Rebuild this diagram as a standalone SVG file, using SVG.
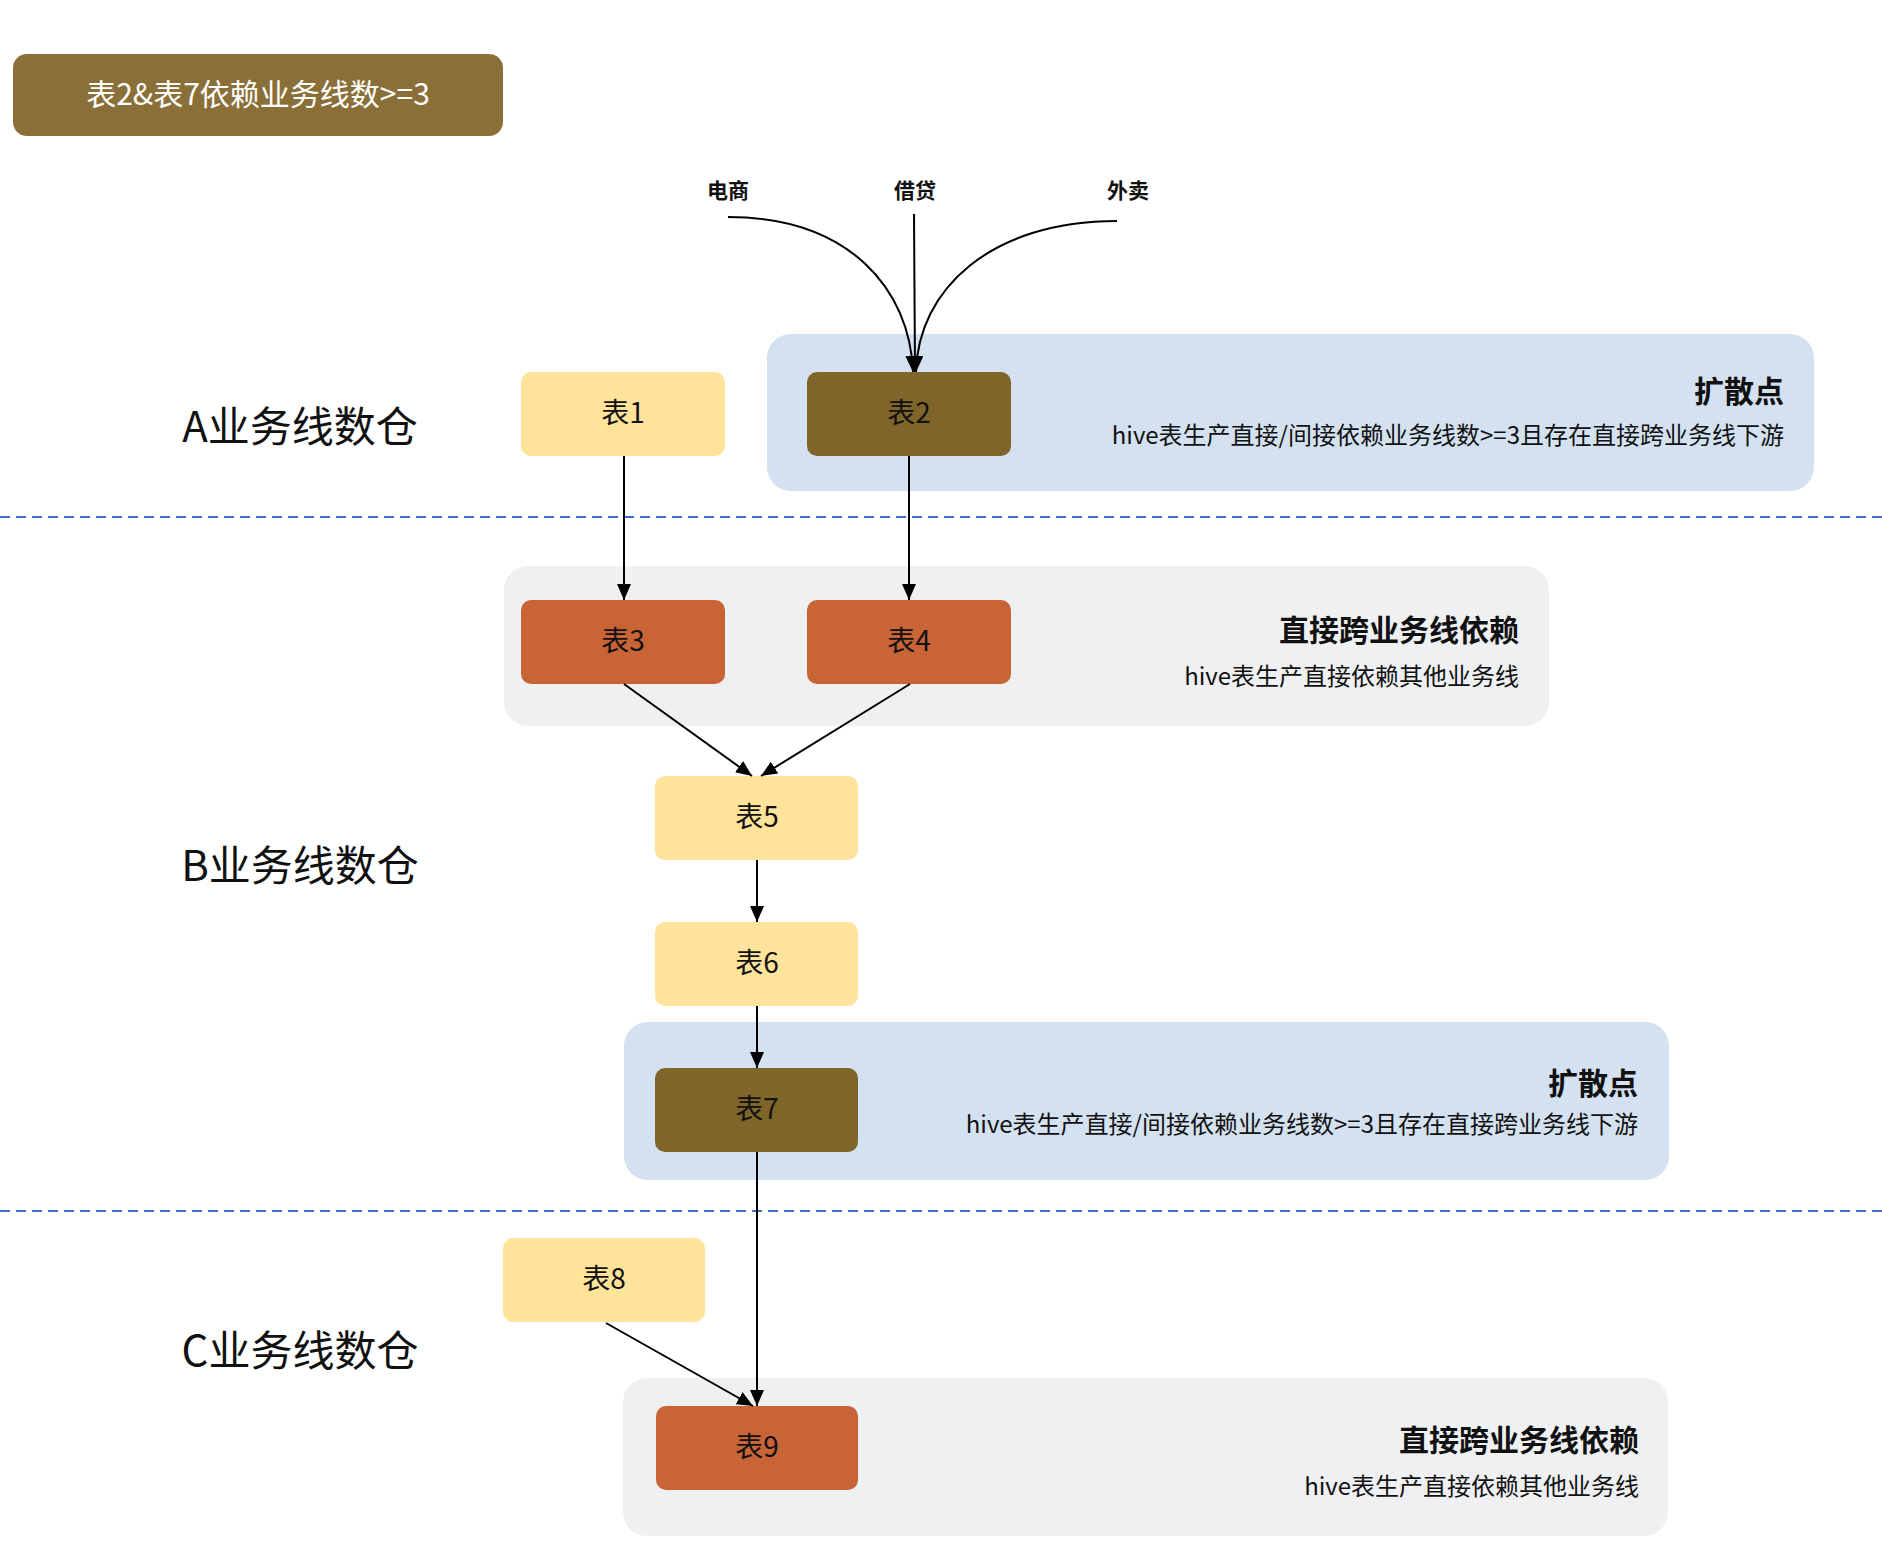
<svg xmlns="http://www.w3.org/2000/svg" width="1882" height="1548" viewBox="0 0 1882 1548">
<style>
text{font-family:"Noto Sans CJK SC","Liberation Sans",sans-serif;dominant-baseline:central;}
.n{font-size:28px;fill:#111;text-anchor:middle;}
.y{fill:#FFE39A;}
.b{fill:#7F6529;}
.o{fill:#C86436;}
.blue{fill:#D4E1F0;}
.grey{fill:#EFF0F2;}
.h{font-size:30px;font-weight:bold;fill:#111;text-anchor:end;}
.s{font-size:24px;fill:#111;text-anchor:end;}
.lane{font-size:42px;fill:#111;text-anchor:middle;}
.src{font-size:21px;font-weight:bold;fill:#111;text-anchor:middle;}
.e{fill:none;stroke:#000;stroke-width:2;marker-end:url(#ah);}
.dash{stroke:#3A6FC4;stroke-width:2;stroke-dasharray:10 6;}
</style>
<defs>
<marker id="ah" markerUnits="userSpaceOnUse" markerWidth="16" markerHeight="14" refX="16" refY="7" orient="auto">
<path d="M0,0 L16,7 L0,14 z" fill="#000"/>
</marker>
</defs>
<rect width="1882" height="1548" fill="#fff"/>

<g id="title">
<rect x="13" y="54" width="490" height="82" rx="14" fill="#8A7038"/>
<text x="258" y="92" style="font-size:30px;fill:#fff;text-anchor:middle;">表2&amp;表7依赖业务线数&gt;=3</text>
</g>

<g id="lanes">
<line class="dash" x1="0" y1="517" x2="1882" y2="517"/>
<line class="dash" x1="0" y1="1211" x2="1882" y2="1211"/>
<text class="lane" x="300" y="423">A业务线数仓</text>
<text class="lane" x="300" y="862">B业务线数仓</text>
<text class="lane" x="300" y="1347">C业务线数仓</text>
</g>

<g id="group-a">
<rect class="blue" x="767" y="334" width="1047" height="157" rx="24"/>
<text class="h" x="1784" y="389">扩散点</text>
<text class="s" x="1784" y="433">hive表生产直接/间接依赖业务线数&gt;=3且存在直接跨业务线下游</text>
</g>
<g id="group-b1">
<rect class="grey" x="504" y="566" width="1045" height="160" rx="24"/>
<text class="h" x="1519" y="628">直接跨业务线依赖</text>
<text class="s" x="1519" y="674">hive表生产直接依赖其他业务线</text>
</g>
<g id="group-b2">
<rect class="blue" x="624" y="1022" width="1045" height="158" rx="24"/>
<text class="h" x="1638" y="1081">扩散点</text>
<text class="s" x="1638" y="1122">hive表生产直接/间接依赖业务线数&gt;=3且存在直接跨业务线下游</text>
</g>
<g id="group-c">
<rect class="grey" x="623" y="1378" width="1045" height="158" rx="24"/>
<text class="h" x="1639" y="1438">直接跨业务线依赖</text>
<text class="s" x="1639" y="1484">hive表生产直接依赖其他业务线</text>
</g>

<g id="sources">
<text class="src" x="728" y="189">电商</text>
<text class="src" x="915" y="189">借贷</text>
<text class="src" x="1128" y="189">外卖</text>
</g>

<g id="t1"><rect class="y" x="521" y="372" width="204" height="84" rx="10"/><text class="n" x="623" y="411">表1</text></g>
<g id="t2"><rect class="b" x="807" y="372" width="204" height="84" rx="10"/><text class="n" x="909" y="411">表2</text></g>
<g id="t3"><rect class="o" x="521" y="600" width="204" height="84" rx="10"/><text class="n" x="623" y="639">表3</text></g>
<g id="t4"><rect class="o" x="807" y="600" width="204" height="84" rx="10"/><text class="n" x="909" y="639">表4</text></g>
<g id="t5"><rect class="y" x="655" y="776" width="203" height="84" rx="10"/><text class="n" x="757" y="815">表5</text></g>
<g id="t6"><rect class="y" x="655" y="922" width="203" height="84" rx="10"/><text class="n" x="757" y="961">表6</text></g>
<g id="t7"><rect class="b" x="655" y="1068" width="203" height="84" rx="10"/><text class="n" x="757" y="1107">表7</text></g>
<g id="t8"><rect class="y" x="503" y="1238" width="202" height="84" rx="10"/><text class="n" x="604" y="1277">表8</text></g>
<g id="t9"><rect class="o" x="656" y="1406" width="202" height="84" rx="10"/><text class="n" x="757" y="1445">表9</text></g>

<g id="connectors">
<path class="e" d="M728,217 C850,217 910,290 913,372"/>
<path class="e" d="M914,214 L915,372"/>
<path class="e" d="M1117,221 C990,221 918,290 916,372"/>
<path class="e" d="M624,456 L624,600"/>
<path class="e" d="M909,456 L909,600"/>
<path class="e" d="M624,684 L752,776"/>
<path class="e" d="M910,684 L761,776"/>
<path class="e" d="M757,860 L757,922"/>
<path class="e" d="M757,1006 L757,1068"/>
<path class="e" d="M757,1152 L757,1406"/>
<path class="e" d="M606,1323 L753,1406"/>
</g>
</svg>
